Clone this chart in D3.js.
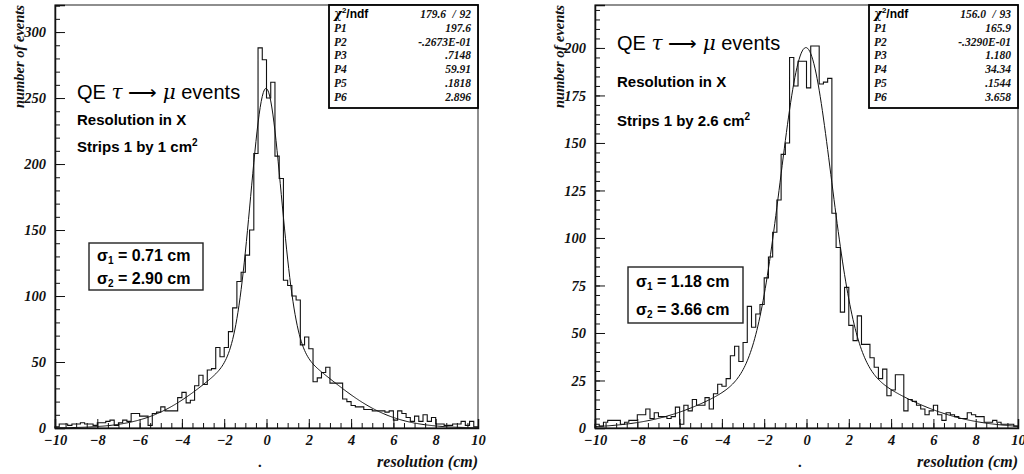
<!DOCTYPE html>
<html>
<head>
<meta charset="utf-8">
<script src="https://cdn.jsdelivr.net/npm/d3@7"></script>
<style>
  body { margin: 0; background: #fff; }
  svg { display: block; }
  .lbl { font-family: "Liberation Serif", serif; font-weight: bold; font-style: italic; fill: #111; }
  .sans { font-family: "Liberation Sans", Arial, sans-serif; fill: #000; }
  .stat { font-family: "Liberation Serif", serif; font-weight: bold; font-style: italic; font-size: 11.5px; fill: #111; }
</style>
</head>
<body>
<div id="chart"></div>
<script>
// histogram range: 100 bins from -10 to 10 cm
const X_MIN = -10, X_MAX = 10, N_BINS = 100;

// counts per bin, strips 1 by 1 cm^2
const countsStrip1 = [
  1, 3, 3, 2, 3, 3, 4, 3, 3, 2,
  4, 4, 5, 6, 2, 4, 6, 5, 11, 11,
  9, 9, 2, 11, 12, 16, 13, 13, 13, 23,
  27, 19, 21, 32, 40, 33, 44, 45, 61, 54,
  61, 73, 91, 111, 118, 131, 150, 208, 288, 279,
  250, 262, 206, 189, 112, 108, 100, 97, 63, 69,
  60, 35, 38, 42, 46, 34, 34, 34, 22, 20,
  17, 16, 16, 14, 14, 13, 13, 13, 12, 13,
  6, 13, 11, 8, 5, 9, 5, 10, 5, 8,
  3, 3, 2, 2, 3, 3, 5, 2, 5, 1
];

// counts per bin, strips 1 by 2.6 cm^2
const countsStrip26 = [
  2, 1, 3, 4, 4, 4, 2, 3, 4, 4,
  7, 7, 10, 5, 8, 6, 6, 5, 6, 11,
  2, 12, 9, 15, 12, 12, 16, 10, 18, 23,
  22, 26, 38, 43, 35, 45, 64, 53, 60, 65,
  79, 90, 103, 120, 144, 150, 195, 180, 193, 193,
  179, 201, 201, 181, 182, 184, 113, 95, 61, 74,
  54, 46, 59, 44, 44, 37, 32, 26, 31, 17,
  20, 28, 28, 9, 15, 14, 12, 10, 7, 9,
  12, 7, 4, 8, 7, 6, 5, 5, 8, 7,
  6, 6, 3, 3, 4, 3, 2, 2, 2, 1
];

// fit parameters P1..P6 as printed in the stat boxes (two gaussians)
const fitStrip1 = [197.6, -0.02673, 0.7148, 59.91, 0.1818, 2.896];
const fitStrip26 = [165.9, -0.03290, 1.180, 34.34, 0.1544, 3.658];

const statLabels = ["P1", "P2", "P3", "P4", "P5", "P6"];
const statTextStrip1 = ["197.6", "-.2673E-01", ".7148", "59.91", ".1818", "2.896"];
const statTextStrip26 = ["165.9", "-.3290E-01", "1.180", "34.34", ".1544", "3.658"];
const chi2Strip1 = ["179.6", "92"];
const chi2Strip26 = ["156.0", "93"];

const sigmaStrip1 = ["0.71", "2.90"];
const sigmaStrip26 = ["1.18", "3.66"];

const xTicks = [-10, -8, -6, -4, -2, 0, 2, 4, 6, 8, 10];
const yTicksStrip1 = [0, 50, 100, 150, 200, 250, 300];
const yTicksStrip26 = [0, 25, 50, 75, 100, 125, 150, 175, 200];

const width = 1024, height = 474;
const svg = d3.select("#chart").append("svg")
  .attr("width", width)
  .attr("height", height);

const panels = [
  { left: 55, right: 478, top: 5, bottom: 428, yMax: 320.5, yMinor: 10,
    counts: countsStrip1, fit: fitStrip1, yTicks: yTicksStrip1,
    stats: statTextStrip1, chi2: chi2Strip1, sigma: sigmaStrip1, strip: "1",
    title: [77, 99], line2: 125, line3: 152, sigBox: [89, 243, 114, 47] },
  { left: 595, right: 1018, top: 5, bottom: 428, yMax: 222.6, yMinor: 5,
    counts: countsStrip26, fit: fitStrip26, yTicks: yTicksStrip26,
    stats: statTextStrip26, chi2: chi2Strip26, sigma: sigmaStrip26, strip: "2.6",
    title: [617, 50], line2: 87, line3: 126, sigBox: [628, 267, 115, 56] }
];

const binWidth = (X_MAX - X_MIN) / N_BINS;

function styleTicks(a) {
  a.selectAll("text")
    .attr("font-family", "Liberation Serif, serif")
    .attr("font-weight", "bold")
    .attr("font-style", "italic")
    .attr("font-size", 14.5)
    .attr("fill", "#111");
  a.selectAll("line").attr("stroke", "#111");
}

panels.forEach(p => {
  const g = svg.append("g");
  const x = d3.scaleLinear().domain([X_MIN, X_MAX]).range([p.left, p.right]);
  const y = d3.scaleLinear().domain([0, p.yMax]).range([p.bottom, p.top]);

  // frame
  g.append("rect")
    .attr("x", p.left).attr("y", p.top)
    .attr("width", p.right - p.left).attr("height", p.bottom - p.top)
    .attr("fill", "none").attr("stroke", "#444").attr("stroke-width", 1.2);

  // y axis, ticks pointing inward
  const yMinorTicks = d3.range(0, p.yMax, p.yMinor);
  g.append("g")
    .attr("transform", `translate(${p.left},0)`)
    .call(d3.axisLeft(y).tickValues(yMinorTicks).tickSize(-5).tickFormat(""))
    .call(a => a.select(".domain").remove())
    .call(styleTicks);
  g.append("g")
    .attr("transform", `translate(${p.left},0)`)
    .call(d3.axisLeft(y).tickValues(p.yTicks).tickSize(-10).tickPadding(9).tickFormat(d3.format("d")))
    .call(a => a.select(".domain").attr("stroke", "#111").attr("stroke-width", 1.5))
    .call(styleTicks);

  // x axis
  const xMinorTicks = d3.range(X_MIN, X_MAX + 0.001, 0.5);
  g.append("g")
    .attr("transform", `translate(0,${p.bottom})`)
    .call(d3.axisBottom(x).tickValues(xMinorTicks).tickSize(-5).tickFormat(""))
    .call(a => a.select(".domain").remove())
    .call(styleTicks);
  g.append("g")
    .attr("transform", `translate(0,${p.bottom})`)
    .call(d3.axisBottom(x).tickValues(xTicks).tickSize(-9).tickPadding(7).tickFormat(d3.format("d")))
    .call(a => a.select(".domain").attr("stroke", "#111").attr("stroke-width", 1.5))
    .call(styleTicks);

  // histogram outline
  const pts = [[X_MIN, 0]];
  p.counts.forEach((c, i) => pts.push([X_MIN + i * binWidth, c]));
  pts.push([X_MAX, p.counts[p.counts.length - 1]]);
  pts.push([X_MAX, 0]);
  const step = d3.line().x(d => x(d[0])).y(d => y(d[1])).curve(d3.curveStepAfter);
  g.append("path")
    .attr("d", step(pts))
    .attr("fill", "none").attr("stroke", "#111").attr("stroke-width", 1.1);

  // fitted double gaussian, from the printed parameters
  const [a1, m1, s1, a2, m2, s2] = p.fit;
  const fitPts = d3.range(X_MIN, X_MAX + 0.001, 0.05).map(v => [v,
    a1 * Math.exp(-0.5 * ((v - m1) / s1) ** 2) + a2 * Math.exp(-0.5 * ((v - m2) / s2) ** 2)]);
  g.append("path")
    .attr("d", d3.line().x(d => x(d[0])).y(d => y(d[1])).curve(d3.curveLinear)(fitPts))
    .attr("fill", "none").attr("stroke", "#111").attr("stroke-width", 1);

  // axis titles
  g.append("text").attr("class", "lbl")
    .attr("transform", `translate(${p.left - 31},${p.top}) rotate(-90)`)
    .attr("text-anchor", "end").attr("font-size", 14.5)
    .text("number of events");
  g.append("text").attr("class", "lbl")
    .attr("x", p.right).attr("y", 467)
    .attr("text-anchor", "end").attr("font-size", 16)
    .text("resolution (cm)");
  g.append("text").attr("class", "lbl")
    .attr("x", (p.left + p.right) / 2 - 8).attr("y", 467)
    .attr("font-size", 15).text(".");

  // stat box
  const bx = p.right - 149, bw = 149, bh = 103;
  g.append("rect").attr("x", bx).attr("y", p.top).attr("width", bw).attr("height", bh)
    .attr("fill", "#fff").attr("stroke", "#000").attr("stroke-width", 1.8);
  const rowY = i => p.top + 13 + i * 13.8;
  const chi = g.append("text").attr("class", "sans")
    .attr("x", bx + 5).attr("y", rowY(0)).attr("font-size", 12).attr("font-weight", "bold");
  chi.append("tspan").attr("font-family", "DejaVu Serif").attr("font-style", "italic").text("χ");
  chi.append("tspan").attr("font-size", 8).attr("dy", -5).text("2");
  chi.append("tspan").attr("dy", 5).text("/ndf");
  g.append("text").attr("class", "stat").attr("x", bx + 117).attr("y", rowY(0))
    .attr("text-anchor", "end").text(p.chi2[0]);
  g.append("text").attr("class", "stat").attr("x", bx + 125).attr("y", rowY(0))
    .attr("text-anchor", "middle").text("/");
  g.append("text").attr("class", "stat").attr("x", bx + 142).attr("y", rowY(0))
    .attr("text-anchor", "end").text(p.chi2[1]);
  statLabels.forEach((lab, i) => {
    g.append("text").attr("class", "stat").attr("x", bx + 5).attr("y", rowY(i + 1)).text(lab);
    g.append("text").attr("class", "stat").attr("x", bx + 142).attr("y", rowY(i + 1))
      .attr("text-anchor", "end").text(p.stats[i]);
  });

  // annotations
  const t = g.append("text").attr("class", "sans")
    .attr("x", p.title[0]).attr("y", p.title[1]).attr("font-size", 20);
  t.append("tspan").text("QE ");
  t.append("tspan").attr("font-family", "DejaVu Serif").attr("font-style", "italic").text("τ");
  t.append("tspan").text(" ⟶ ");
  t.append("tspan").attr("font-family", "DejaVu Serif").attr("font-style", "italic").text("μ");
  t.append("tspan").text(" events");
  g.append("text").attr("class", "sans").attr("font-weight", "bold").attr("font-size", 15)
    .attr("x", p.title[0]).attr("y", p.line2).text("Resolution in X");
  const s = g.append("text").attr("class", "sans").attr("font-weight", "bold").attr("font-size", 15)
    .attr("x", p.title[0]).attr("y", p.line3);
  s.append("tspan").text(`Strips 1 by ${p.strip} cm`);
  s.append("tspan").attr("font-size", 10).attr("dy", -6).text("2");

  // sigma box
  const [sx, sy, sw, sh] = p.sigBox;
  g.append("rect").attr("x", sx).attr("y", sy).attr("width", sw).attr("height", sh)
    .attr("fill", "#fff").attr("stroke", "#222").attr("stroke-width", 1.4);
  p.sigma.forEach((v, i) => {
    const tt = g.append("text").attr("class", "sans").attr("font-weight", "bold").attr("font-size", 16)
      .attr("x", sx + 8).attr("y", sy + (sh / 2) * i + sh / 4 + 6);
    tt.append("tspan").text("σ");
    tt.append("tspan").attr("font-size", 10).attr("dy", 3).text(String(i + 1));
    tt.append("tspan").attr("dy", -3).text(` = ${v} cm`);
  });
});
</script>
</body>
</html>
